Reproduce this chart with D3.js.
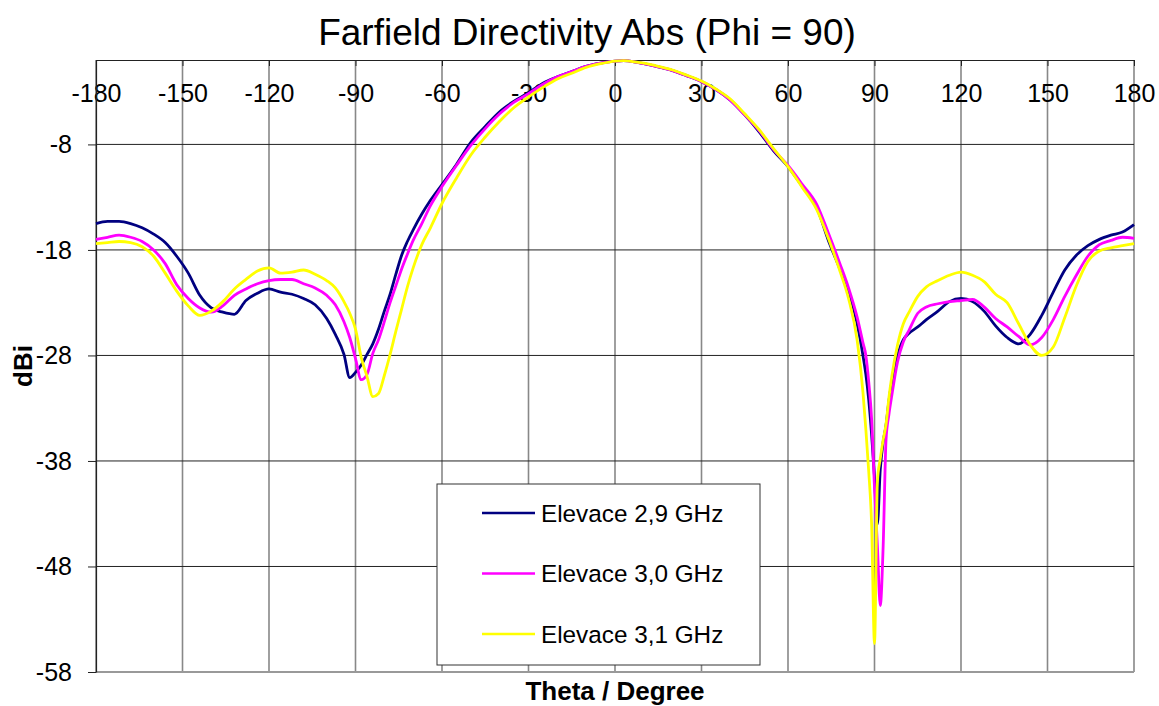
<!DOCTYPE html>
<html>
<head>
<meta charset="utf-8">
<script src="https://cdn.jsdelivr.net/npm/d3@7"></script>
<style>
  body { margin: 0; background: #fff; }
  svg { font-family: "Liberation Sans", Arial, sans-serif; }
</style>
</head>
<body>
<script>
// theta grid (deg), denser around the nulls
const theta = [
  -180, -176, -172, -168, -164, -160, -156, -152, -148, -144, -140, -136, -132, -128, -124,
  -120, -116, -112, -108, -104, -100, -97, -94, -92, -90, -88, -86, -84, -82, -80, -78, -76,
  -74, -72, -70, -67, -64, -60, -55, -50, -45, -40, -35, -30, -25, -20, -15, -10, -5, 0, 3,
  5, 10, 15, 20, 25, 30, 35, 40, 45, 50, 55, 60, 65, 70, 74, 78, 81, 84, 86, 87, 88, 89, 90,
  91, 92, 93, 94, 95, 96, 98, 100, 102, 105, 108, 112, 116, 120, 124, 128, 132, 136, 140,
  144, 148, 152, 156, 160, 164, 168, 172, 176, 180
];

const elev29 = [
  -15.5, -15.3, -15.3, -15.5, -15.9, -16.5, -17.3, -18.6, -20.2, -22.3, -23.5, -23.9, -24.1, -22.8, -22.1,
  -21.7, -22.0, -22.2, -22.6, -23.2, -24.5, -26.0, -27.9, -30.1, -29.6, -28.9, -27.9, -26.9, -25.5, -23.8, -22.2, -20.3,
  -18.5, -17.2, -16.1, -14.6, -13.3, -11.8, -9.9, -7.8, -6.3, -4.9, -3.9, -3.1, -2.2, -1.6, -1.1, -0.6, -0.3, -0.1, -0.05,
  -0.1, -0.35, -0.65, -1.0, -1.5, -2.05, -2.8, -3.8, -5.2, -6.8, -8.6, -10.1, -12.0, -14.0, -17.1, -19.8, -21.9, -25.0, -28.0, -29.8, -32.2, -35.5, -39.5,
  -44.0, -38.8, -36.2, -34.6, -32.3, -30.5, -28.0, -26.5, -25.9, -25.3, -24.6, -23.8, -22.9, -22.6, -22.9, -23.8, -25.2, -26.3, -26.9,
  -26.0, -24.2, -22.0, -19.9, -18.5, -17.6, -17.0, -16.6, -16.3, -15.6
];

const elev30 = [
  -17.0, -16.8, -16.6, -16.8, -17.2, -18.0, -19.3, -21.3, -22.6, -23.5, -23.9, -23.3, -22.3, -21.7, -21.2,
  -20.9, -20.8, -20.8, -21.2, -21.6, -22.3, -23.2, -24.8, -26.3, -28.3, -30.3, -29.8, -27.8, -26.5, -24.8, -23.0, -21.4,
  -19.8, -18.4, -17.1, -15.5, -13.8, -12.0, -10.0, -8.1, -6.5, -5.1, -4.0, -3.2, -2.3, -1.6, -1.1, -0.6, -0.3, -0.1, -0.05,
  -0.1, -0.35, -0.65, -1.0, -1.5, -2.05, -2.8, -3.8, -5.2, -6.7, -8.5, -10.0, -11.8, -13.7, -16.4, -19.3, -21.6, -24.4, -26.8, -28.0, -30.5, -34.0, -40.5,
  -46.0, -51.7, -46.1, -36.0, -33.6, -31.8, -28.6, -26.7, -25.6, -24.0, -23.4, -23.1, -22.9, -22.8, -22.7, -23.4, -24.5, -25.3, -26.2,
  -27.0, -26.3, -24.6, -22.4, -20.4, -18.6, -17.5, -17.1, -16.8, -16.9
];

const elev31 = [
  -17.4, -17.3, -17.2, -17.3, -17.7, -18.6, -20.2, -21.9, -23.3, -24.2, -23.8, -22.9, -21.7, -20.8, -20.0,
  -19.7, -20.2, -20.1, -19.9, -20.3, -20.9, -21.6, -22.9, -24.0, -25.5, -28.2, -30.0, -31.9, -31.6, -29.9, -27.9, -25.7,
  -23.6, -21.5, -19.7, -17.5, -15.9, -13.6, -11.2, -9.0, -7.3, -5.8, -4.5, -3.5, -2.6, -1.8, -1.25, -0.7, -0.35, -0.1, -0.05,
  -0.1, -0.3, -0.6, -0.95, -1.45, -2.0, -2.75, -3.7, -5.1, -6.6, -8.4, -10.1, -12.1, -14.2, -16.9, -20.0, -22.6, -26.6, -31.5, -35.0, -39.0, -44.0, -55.3,
  -40.0, -37.8, -36.0, -34.5, -32.0, -30.0, -27.0, -25.0, -23.9, -22.4, -21.5, -20.9, -20.4, -20.1, -20.4, -21.0, -22.2, -23.0, -25.0,
  -27.0, -28.0, -27.2, -24.4, -21.4, -19.1, -18.1, -17.8, -17.6, -17.4
];

const seriesNames = ['Elevace 2,9 GHz', 'Elevace 3,0 GHz', 'Elevace 3,1 GHz'];
const seriesColors = ['#000080', '#ff00ff', '#ffff00'];
const xTicks = d3.range(-180, 181, 30);
const yTicks = [-58, -48, -38, -28, -18, -8];

const W = 1159, H = 706;
const margin = { top: 60, right: 25, bottom: 34, left: 96 };

const svg = d3.select('body').append('svg')
  .attr('width', W)
  .attr('height', H);

const x = d3.scaleLinear().domain([-180, 180]).range([margin.left, W - margin.right]);
const y = d3.scaleLinear().domain([-58, 0]).range([H - margin.bottom, margin.top]);

// plain hyphen for negatives, like the original
const fmt = d => String(d);

// vertical grid (gray)
svg.append('g')
  .selectAll('line')
  .data(xTicks)
  .join('line')
  .attr('x1', d => x(d)).attr('x2', d => x(d))
  .attr('y1', y(0)).attr('y2', y(-58))
  .attr('stroke', '#888')
  .attr('stroke-width', 1.6);

// horizontal grid (dark)
svg.append('g')
  .selectAll('line')
  .data(yTicks.slice(1))
  .join('line')
  .attr('x1', x(-180)).attr('x2', x(180))
  .attr('y1', d => y(d)).attr('y2', d => y(d))
  .attr('stroke', '#222')
  .attr('stroke-width', 1);

// bottom border
svg.append('line')
  .attr('x1', x(-180)).attr('x2', x(180))
  .attr('y1', y(-58)).attr('y2', y(-58))
  .attr('stroke', '#999')
  .attr('stroke-width', 2);

// axes
const xAxis = svg.append('g')
  .attr('transform', `translate(0,${y(0)})`)
  .call(d3.axisBottom(x).tickValues(xTicks).tickFormat(fmt)
    .tickSizeInner(6).tickSizeOuter(0).tickPadding(18));

const yAxis = svg.append('g')
  .attr('transform', `translate(${x(-180)},0)`)
  .call(d3.axisLeft(y).tickValues(yTicks).tickFormat(fmt)
    .tickSizeInner(8).tickSizeOuter(0).tickPadding(16));

[xAxis, yAxis].forEach(a => {
  a.select('.domain').attr('stroke', '#222').attr('stroke-width', 1.2);
  a.selectAll('.tick line').attr('stroke', '#222');
  a.selectAll('text')
    .attr('fill', '#000')
    .style('font-family', '"Liberation Sans", Arial, sans-serif')
    .style('font-size', '25px');
});
yAxis.selectAll('text').attr('dy', '0.34em');

// curves
const line = d3.line()
  .x((d, i) => x(theta[i]))
  .y(d => y(d))
  .curve(d3.curveMonotoneX);

const series = [elev29, elev30, elev31];
svg.append('g')
  .selectAll('path')
  .data(series)
  .join('path')
  .attr('d', line)
  .attr('fill', 'none')
  .attr('stroke', (d, i) => seriesColors[i])
  .attr('stroke-width', 2.8)
  .attr('stroke-linejoin', 'round');

// title
svg.append('text')
  .attr('x', 587)
  .attr('y', 45)
  .attr('text-anchor', 'middle')
  .style('font-size', '37px')
  .text('Farfield Directivity Abs (Phi = 90)');

svg.append('text')
  .attr('x', (x(-180) + x(180)) / 2)
  .attr('y', 700)
  .attr('text-anchor', 'middle')
  .style('font-size', '26px')
  .style('font-weight', 'bold')
  .text('Theta / Degree');

svg.append('text')
  .attr('transform', `translate(32,${(y(0) + y(-58)) / 2}) rotate(-90)`)
  .attr('text-anchor', 'middle')
  .style('font-size', '26px')
  .style('font-weight', 'bold')
  .text('dBi');

// legend
const legend = svg.append('g').attr('transform', 'translate(437,484)');
legend.append('rect')
  .attr('width', 323)
  .attr('height', 181)
  .attr('fill', '#fff')
  .attr('stroke', '#333')
  .attr('stroke-width', 1);

const items = legend.selectAll('g.item')
  .data(seriesNames)
  .join('g')
  .attr('class', 'item')
  .attr('transform', (d, i) => `translate(0,${29 + i * 60.5})`);

items.append('line')
  .attr('x1', 45).attr('x2', 98)
  .attr('stroke', (d, i) => seriesColors[i])
  .attr('stroke-width', 2.6);

items.append('text')
  .attr('x', 104)
  .attr('dy', '0.35em')
  .style('font-size', '24.3px')
  .text(d => d);
</script>
</body>
</html>
